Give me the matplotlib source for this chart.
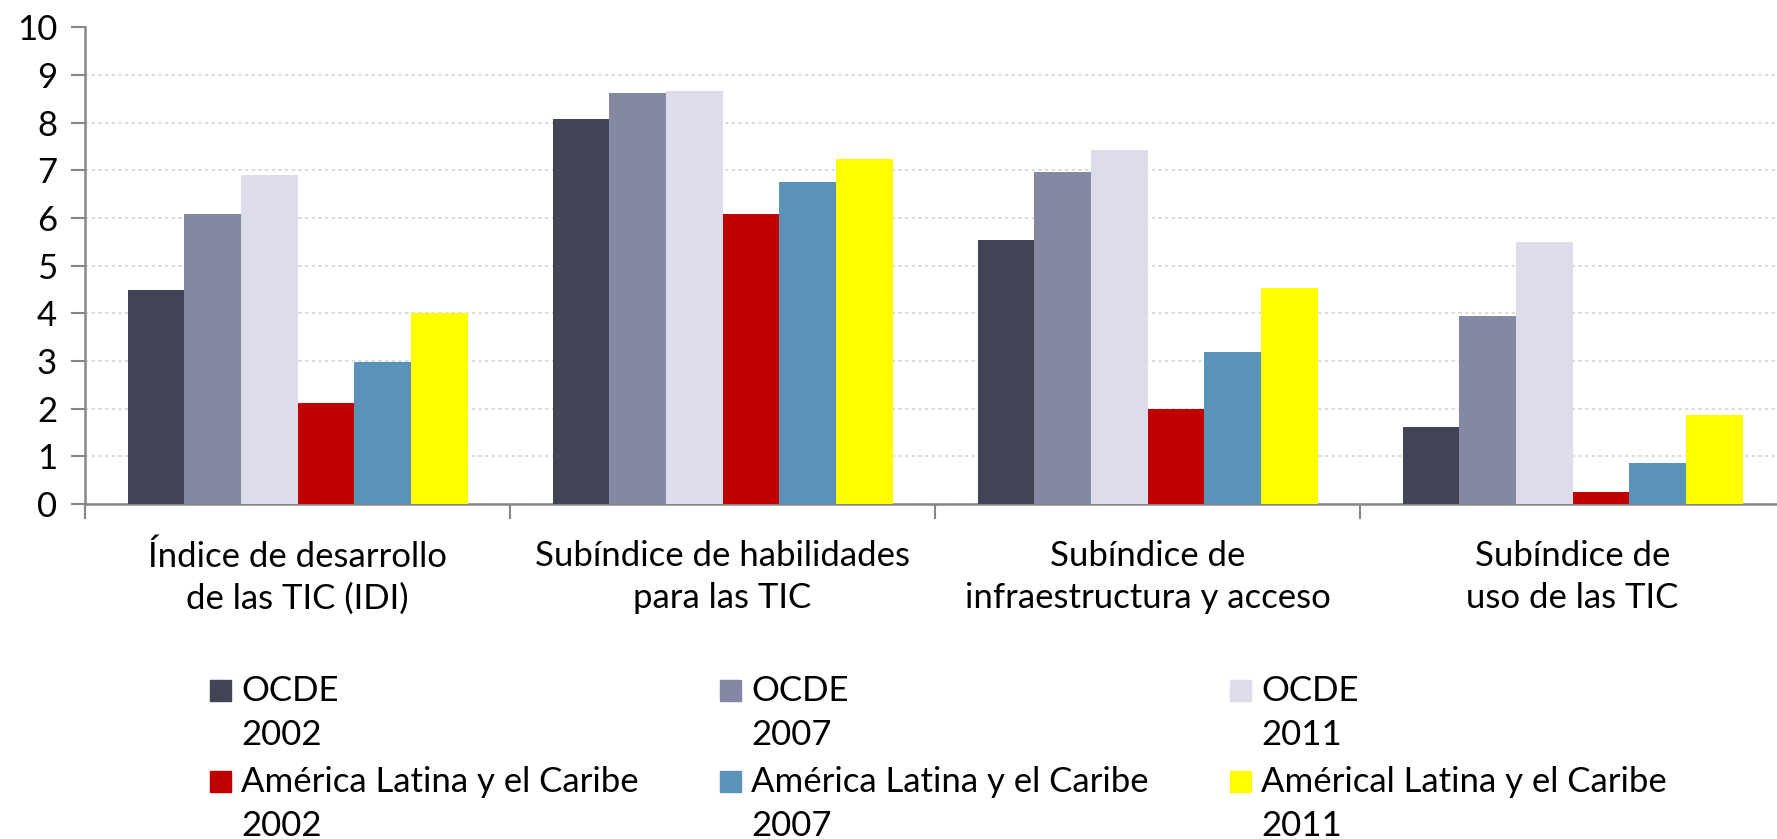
import numpy as np
import matplotlib
matplotlib.use("Agg")
import matplotlib.pyplot as plt
from matplotlib.patches import Rectangle

plt.rcParams['font.family'] = ['Lato', 'DejaVu Sans']

categories = ["Índice de desarrollo\nde las TIC (IDI)",
              "Subíndice de habilidades\npara las TIC",
              "Subíndice de\ninfraestructura y acceso",
              "Subíndice de\nuso de las TIC"]

series_names = ["OCDE", "OCDE", "OCDE",
                "América Latina y el Caribe", "América Latina y el Caribe",
                "Américal Latina y el Caribe"]
series_years = ["2002", "2007", "2011", "2002", "2007", "2011"]

ocde_2002 = [4.49, 8.09, 5.54, 1.62]
ocde_2007 = [6.09, 8.63, 6.96, 3.95]
ocde_2011 = [6.91, 8.67, 7.42, 5.49]
alc_2002 = [2.11, 6.09, 1.99, 0.25]
alc_2007 = [2.97, 6.75, 3.20, 0.86]
alc_2011 = [4.00, 7.24, 4.53, 1.87]

values = [ocde_2002, ocde_2007, ocde_2011, alc_2002, alc_2007, alc_2011]
colors = ["#424456", "#8488A2", "#DCDCEA", "#C00000", "#5B92B7", "#FFFF00"]

W, H = 1777, 839
fig = plt.figure(figsize=(W / 100, H / 100), dpi=100)
ax = fig.add_axes([85 / W, 1 - 504 / H, 1700 / W, (504 - 27.5) / H])

x = np.arange(len(categories)) + 0.5
bw = 0.8 / 6
for i, (vals, c) in enumerate(zip(values, colors)):
    ax.bar(x - 0.4 + bw * (i + 0.5), vals, width=bw, color=c, zorder=3)

ax.set_xlim(0, 4)
ax.set_ylim(0, 10)
ax.set_yticks(range(11))
ax.yaxis.grid(True, linestyle=(0, (2, 2)), color="#d4d4d4", linewidth=1.2, zorder=0)

ax.set_xticks(range(5))
ax.set_xticklabels([])
ax.set_xticks(x, minor=True)
ax.set_xticklabels(categories, minor=True, fontsize=25, linespacing=1.38)
ax.tick_params(axis='x', which='minor', length=0, pad=26)
ax.tick_params(axis='x', which='major', length=11, width=1.5, color="#868686")
ax.tick_params(axis='y', length=10, width=1.5, color="#868686", labelsize=25, pad=10)

for s in ["top", "right"]:
    ax.spines[s].set_visible(False)
for s in ["left", "bottom"]:
    ax.spines[s].set_color("#868686")
    ax.spines[s].set_linewidth(1.8)

# legend drawn by hand: square sits on the baseline of the first line
col_x = [210, 720, 1230]
row_base = [701, 792]
line_gap = 44
for i, (name, yr, c) in enumerate(zip(series_names, series_years, colors)):
    px, by = col_x[i % 3], row_base[i // 3]
    fig.patches.append(Rectangle((px / W, 1 - by / H), 21 / W, 21 / H,
                                 transform=fig.transFigure, color=c))
    fig.text((px + 31) / W, 1 - by / H, name, fontsize=25,
             va='baseline', ha='left')
    fig.text((px + 31) / W, 1 - (by + line_gap) / H, yr, fontsize=25,
             va='baseline', ha='left')

fig.savefig("out.png", dpi=100)
